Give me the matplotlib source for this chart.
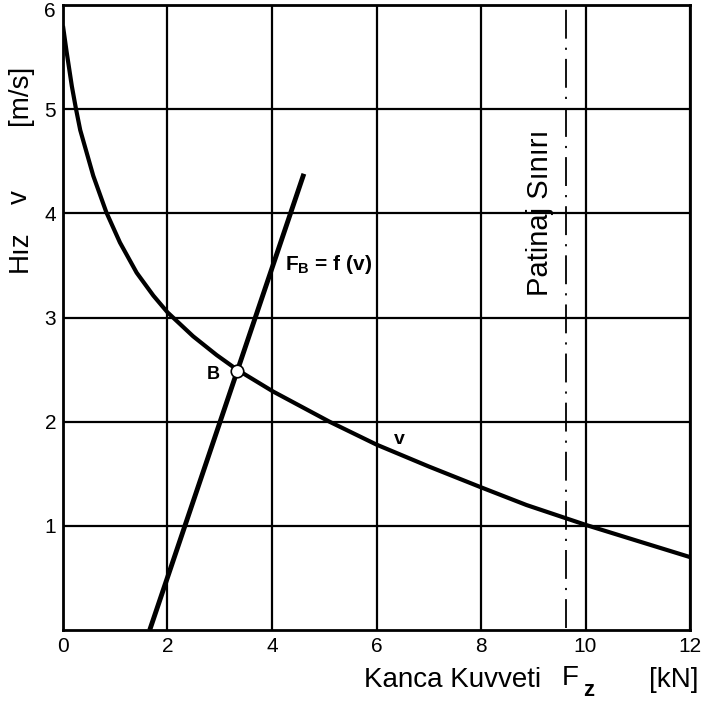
import matplotlib.pyplot as plt
import matplotlib.transforms as mtransforms
import numpy as np

plt.rcParams['font.family'] = ['Liberation Sans', 'DejaVu Sans']

# v curve
v_x = [0, 0.07, 0.17, 0.25, 0.33, 0.58, 0.83, 1.09, 1.41, 1.73, 2.0, 2.49, 2.94, 3.33,
       4.02, 5.1, 6.0, 7.0, 8.0, 8.87, 10.0, 11.03, 12.0]
v_y = [5.8, 5.55, 5.22, 5.0, 4.8, 4.36, 4.01, 3.72, 3.43, 3.21, 3.05, 2.82, 2.64, 2.5,
       2.29, 2.0, 1.78, 1.57, 1.37, 1.2, 1.01, 0.85, 0.7]

# F_B = f(v) line
fb_x = [1.66, 4.61]
fb_y = [0.0, 4.38]

point_b = (3.33, 2.49)
patinaj_x = 9.62

x_ticks = [0, 2, 4, 6, 8, 10, 12]
y_ticks = [1, 2, 3, 4, 5, 6]

fig = plt.figure(figsize=(7.02, 7.06), dpi=100)
ax = fig.add_axes([0.0897, 0.1076, 0.8933, 0.8853])

ax.set_xlim(0, 12)
ax.set_ylim(0, 6)
ax.set_xticks(x_ticks)
ax.set_yticks(y_ticks)
ax.tick_params(length=0, labelsize=15, pad=5)
ax.grid(True, color='black', linewidth=1.6)
for s in ax.spines.values():
    s.set_linewidth(2)

# nudge the top "6" label down a little so it stays inside the image
top_lbl = ax.get_yticklabels()[-1]
top_lbl.set_transform(top_lbl.get_transform() +
                      mtransforms.ScaledTranslation(0, -3 / 72, fig.dpi_scale_trans))

ax.plot(v_x, v_y, color='black', linewidth=3, solid_capstyle='butt')
ax.plot(fb_x, fb_y, color='black', linewidth=3.5, solid_capstyle='butt')
ax.plot([patinaj_x, patinaj_x], [0.02, 6], color='black', linewidth=1.3,
        linestyle=(0, (16, 5, 1.2, 5)))
ax.plot(*point_b, marker='o', markersize=9, markerfacecolor='white',
        markeredgecolor='black', markeredgewidth=1.2, zorder=5)

ax.text(2.88, 2.45, 'B', fontsize=13, fontweight='bold', ha='center', va='center')
ax.text(6.44, 1.83, 'v', fontsize=14, fontweight='bold', ha='center', va='center')
ax.text(4.24, 3.51, r'F$_\mathregular{B}$ = f (v)', fontsize=15, fontweight='bold',
        ha='left', va='center')
ax.text(9.12, 4.01, 'Patinaj Sınırı', fontsize=21, rotation=90, ha='center', va='center')

# axis labels
fig.text(0.028, 0.644, 'Hız', fontsize=20, rotation=90, ha='center', va='center')
fig.text(0.028, 0.721, 'v', fontsize=20, rotation=90, ha='center', va='center')
fig.text(0.028, 0.865, '[m/s]', fontsize=20, rotation=90, ha='center', va='center')
fig.text(0.644, 0.037, 'Kanca Kuvveti', fontsize=20, ha='center', va='center')
fig.text(0.812, 0.04, 'F', fontsize=20, ha='center', va='center')
fig.text(0.838, 0.022, 'z', fontsize=16, fontweight='bold', ha='center', va='center')
fig.text(0.96, 0.037, '[kN]', fontsize=20, ha='center', va='center')

fig.savefig('out.png', dpi=100)
